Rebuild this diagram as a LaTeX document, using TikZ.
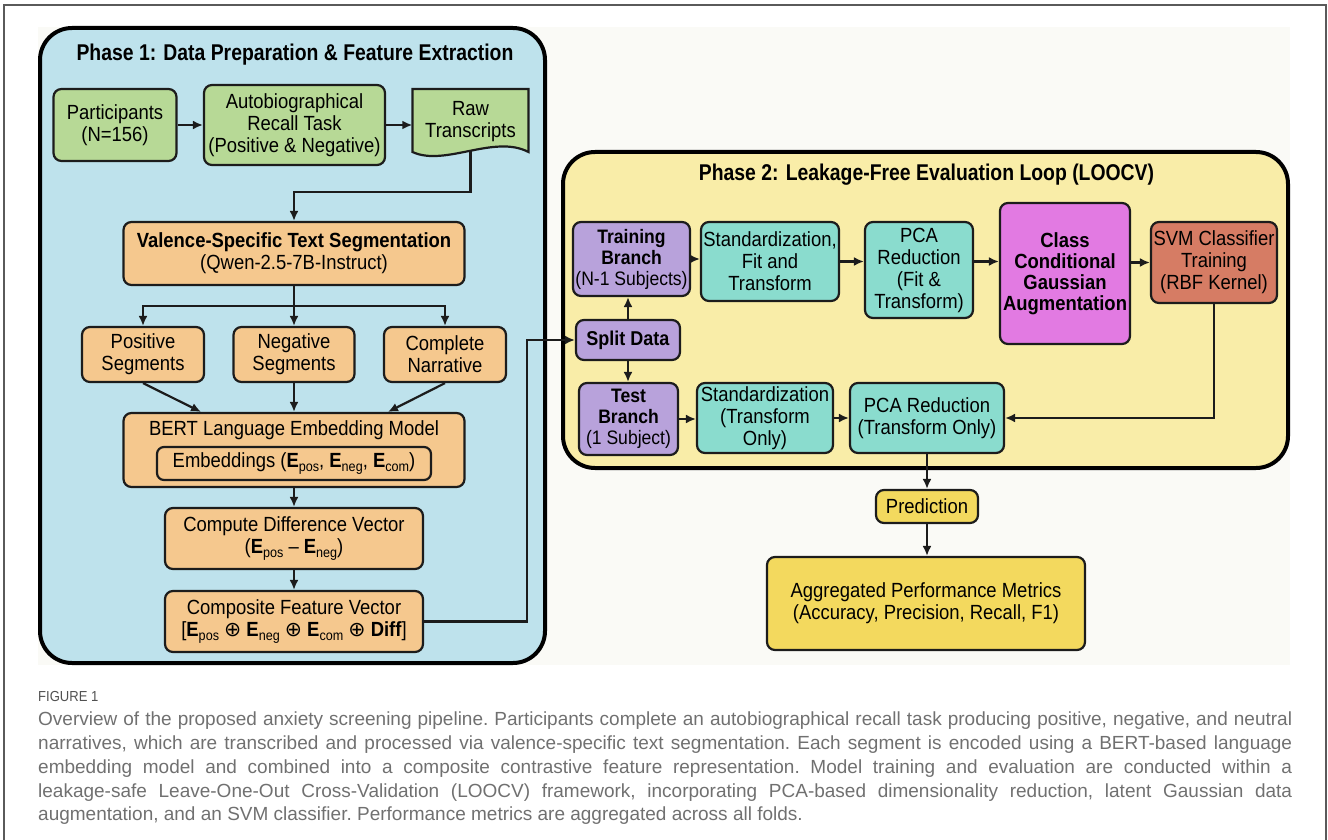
\documentclass[tikz,border=0pt]{standalone}
\usepackage{fontspec}
\setmainfont{Liberation Sans}[FakeStretch=0.9]
\newfontfamily\titlefont{Liberation Sans}[FakeStretch=0.85]
\newfontfamily\capfont{Liberation Sans}
\newfontfamily\symfont{DejaVu Sans}
\usetikzlibrary{arrows.meta}

\definecolor{p1blue}{RGB}{190,226,236}
\definecolor{p2yellow}{RGB}{249,237,168}
\definecolor{boxgreen}{RGB}{183,217,150}
\definecolor{boxorange}{RGB}{245,200,142}
\definecolor{boxpurple}{RGB}{184,162,219}
\definecolor{boxteal}{RGB}{138,220,206}
\definecolor{boxmagenta}{RGB}{226,122,226}
\definecolor{boxbrick}{RGB}{214,124,100}
\definecolor{boxgold}{RGB}{243,217,94}
\definecolor{edge}{RGB}{28,28,28}
\definecolor{capgray}{RGB}{112,112,112}
\definecolor{figgray}{RGB}{80,80,80}
\definecolor{framegray}{RGB}{90,90,90}
\definecolor{figbg}{RGB}{250,250,246}

\newcommand{\vsub}[1]{\raisebox{-0.35ex}{\fontsize{14}{14}\selectfont #1}}
\newcommand{\vE}[1]{\textbf{E}\vsub{#1}}
\newcommand{\vplus}{{\symfont ⊕}}

\begin{document}
\begin{tikzpicture}[x=1pt,y=-1pt,
  txt/.style={font=\fontsize{20.5}{22}\selectfont},
  box/.style={txt, draw=edge, line width=2.2pt, rounded corners=8pt, align=center, inner sep=2pt},
  phase/.style={draw=black, line width=4pt, rounded corners=32pt},
  ttl/.style={font=\titlefont\bfseries\fontsize{22.8}{24}\selectfont},
  arr/.style={draw=edge, line width=2.2pt, -{Latex[length=10pt,width=9pt]}}]

\useasboundingbox (0,0) rectangle (1328,840);
\fill[figbg] (38,27) rectangle (1290,665);
\draw[framegray, line width=1.3pt] (4,840) -- (4,5) -- (1326,5) -- (1326,840);

\node[phase, fill=p1blue, minimum width=505pt, minimum height=635pt] (phaseone) at (292.5,345.5) {};
\node[ttl] (titleone) at (295,55) {Phase 1: Data Preparation \& Feature Extraction};

\node[phase, fill=p2yellow, minimum width=725pt, minimum height=316pt] (phasetwo) at (925.5,310) {};
\node[ttl] (titletwo) at (926.5,175) {Phase 2: Leakage-Free Evaluation Loop (LOOCV)};

\node[box, fill=boxgreen, minimum width=123pt, minimum height=72pt] (part) at (115,125) {Participants\\(N=156)};
\node[box, fill=boxgreen, minimum width=181pt, minimum height=80pt] (autob) at (294.5,125) {Autobiographical\\Recall Task\\(Positive \& Negative)};
\draw[box, fill=boxgreen, rounded corners=0pt] (412.5,89) -- (528.5,89) -- (528.5,152)
  .. controls (494,134) and (445,167) .. (412.5,152) -- cycle;
\node[txt, align=center, minimum width=116pt, minimum height=58pt, inner sep=0pt] (raw) at (470.5,122) {Raw\\Transcripts};

\node[box, fill=boxorange, minimum width=341pt, minimum height=63pt] (valence) at (294,253.5) {\textbf{Valence-Specific Text Segmentation}\\(Qwen-2.5-7B-Instruct)};

\node[box, fill=boxorange, minimum width=122pt, minimum height=55pt] (pos) at (143,354.5) {Positive\\Segments};
\node[box, fill=boxorange, minimum width=121pt, minimum height=55pt] (neg) at (294,354.5) {Negative\\Segments};
\node[box, fill=boxorange, minimum width=122pt, minimum height=55pt] (comp) at (445,354.5) {Complete\\Narrative};

\node[box, fill=boxorange, minimum width=341pt, minimum height=74pt] (bert) at (294,450) {};
\node[txt] (bertlbl) at (294,430) {BERT Language Embedding Model};
\node[box, fill=boxorange, minimum width=274pt, minimum height=33pt, rounded corners=7pt] (emb) at (294,463.5) {Embeddings (\vE{pos}, \vE{neg}, \vE{com})};

\node[box, fill=boxorange, minimum width=258pt, minimum height=61pt] (diff) at (294,538.5) {Compute Difference Vector\\(\vE{pos} -- \vE{neg})};
\node[box, fill=boxorange, minimum width=258pt, minimum height=61pt] (compo) at (294,621.5) {Composite Feature Vector\\{}[\vE{pos} \vplus{} \vE{neg} \vplus{} \vE{com} \vplus{} \textbf{Diff}]};

\draw[arr] (part) -- (autob);
\draw[arr] (autob.east) -- (autob.east -| raw.west);
\draw[arr] (raw.south) -- ++(0,41) -| (valence.north);
\draw[arr] (valence.south) -- ++(0,20) -| (pos.north);
\draw[arr] (valence.south) -- ++(0,20) -| (comp.north);
\draw[arr] (valence.south) -- (neg.north);
\draw[arr] (pos.south) -- ([xshift=-93pt]bert.north);
\draw[arr] (neg.south) -- (bert.north);
\draw[arr] (comp.south) -- ([xshift=94pt]bert.north);
\draw[arr] (bert) -- (diff);
\draw[arr] (diff) -- (compo);

\node[box, fill=boxpurple, font=\fontsize{19.5}{21}\selectfont, minimum width=117pt, minimum height=74pt] (train) at (631.5,259) {\textbf{Training}\\\textbf{Branch}\\(N-1 Subjects)};
\node[box, fill=boxpurple, font=\fontsize{20}{22}\selectfont, minimum width=104pt, minimum height=40pt] (split) at (628,340) {\textbf{Split Data}};
\node[box, fill=boxpurple, font=\fontsize{19.5}{21}\selectfont, minimum width=99pt, minimum height=72pt] (test) at (628.5,419) {\textbf{Test}\\\textbf{Branch}\\(1 Subject)};

\node[box, fill=boxteal, minimum width=138pt, minimum height=79pt] (stdfit) at (770,261.5) {Standardization,\\Fit and\\Transform};
\node[box, fill=boxteal, minimum width=108pt, minimum height=96pt] (pcafit) at (919,270) {PCA\\Reduction\\(Fit \&\\Transform)};
\node[box, fill=boxmagenta, font=\fontsize{20.5}{21}\selectfont, minimum width=130pt, minimum height=141pt] (ccga) at (1065,273.5) {\textbf{Class}\\\textbf{Conditional}\\\textbf{Gaussian}\\\textbf{Augmentation}};
\node[box, fill=boxbrick, minimum width=126pt, minimum height=81pt] (svm) at (1214,262.5) {SVM Classifier\\Training\\(RBF Kernel)};

\node[box, fill=boxteal, minimum width=136pt, minimum height=70pt] (stdtr) at (765,418) {Standardization\\(Transform\\Only)};
\node[box, fill=boxteal, minimum width=154pt, minimum height=70pt] (pcatr) at (927,418) {PCA Reduction\\(Transform Only)};

\node[box, fill=boxgold, minimum width=102pt, minimum height=33pt] (pred) at (927,506.5) {Prediction};
\node[box, fill=boxgold, minimum width=318pt, minimum height=93pt] (agg) at (926,603.5) {Aggregated Performance Metrics\\(Accuracy, Precision, Recall, F1)};

\draw[arr] (compo.east) -- ++(103,0) |- (split.west);
\draw[arr] (split.north) -- (split.north |- train.south);
\draw[arr] (split.south) -- (split.south |- test.north);
\draw[arr] (train.east) -- (train.east -| stdfit.west);
\draw[arr] (stdfit.east) -- (stdfit.east -| pcafit.west);
\draw[arr] (pcafit.east |- stdfit.east) -- (stdfit.east -| ccga.west);
\draw[arr] (ccga.east |- svm.west) -- (svm.west);
\draw[arr] (test.east) -- (test.east -| stdtr.west);
\draw[arr] (stdtr.east) -- (stdtr.east -| pcatr.west);
\draw[arr] (svm.south) |- (pcatr.east);
\draw[arr] (pcatr.south) -- (pcatr.south |- pred.north);
\draw[arr] (pred.south) -- (pred.south |- agg.north);

\node[anchor=west, inner sep=0pt, text=figgray, font=\fontsize{14.5}{16}\selectfont] (figlbl) at (38,697) {FIGURE 1};
\node[anchor=north west, inner sep=0pt, text=capgray, font=\capfont\frenchspacing\fontsize{19}{23.75}\selectfont, align=left] (caption) at (38,712) {%
\makebox[1254pt][s]{Overview of the proposed anxiety screening pipeline. Participants complete an autobiographical recall task producing positive, negative, and neutral}\\
\makebox[1254pt][s]{narratives, which are transcribed and processed via valence-specific text segmentation. Each segment is encoded using a BERT-based language}\\
\makebox[1254pt][s]{embedding model and combined into a composite contrastive feature representation. Model training and evaluation are conducted within a}\\
\makebox[1254pt][s]{leakage-safe Leave-One-Out Cross-Validation (LOOCV) framework, incorporating PCA-based dimensionality reduction, latent Gaussian data}\\
augmentation, and an SVM classifier. Performance metrics are aggregated across all folds.};
\end{tikzpicture}
\end{document}
